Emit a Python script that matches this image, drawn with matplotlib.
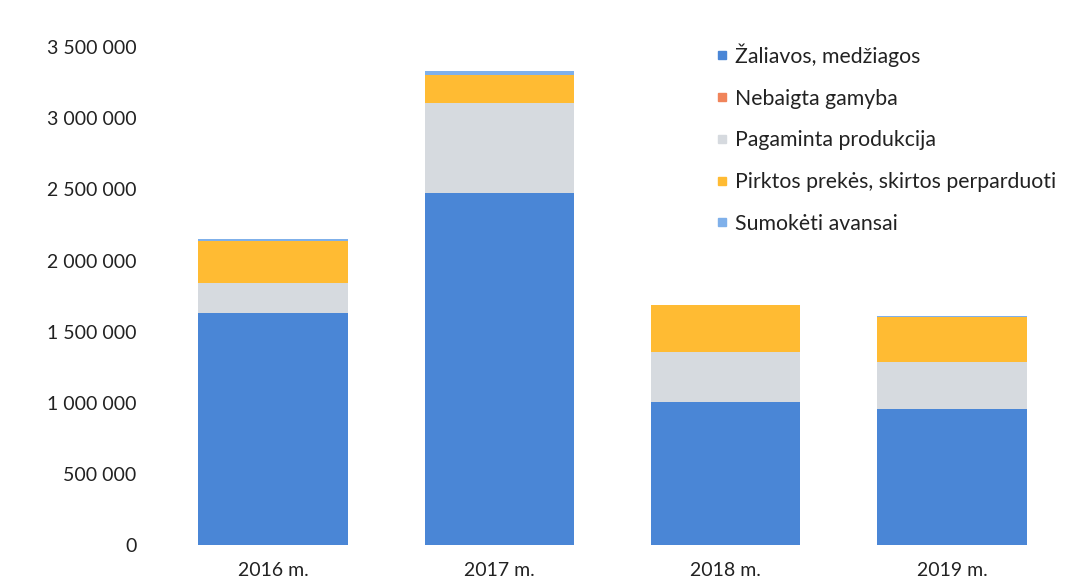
import matplotlib
matplotlib.use("Agg")
import matplotlib.pyplot as plt
from matplotlib.lines import Line2D
from matplotlib.ticker import FuncFormatter
import numpy as np

plt.rcParams['font.family'] = ['Lato', 'DejaVu Sans']

categories = ["2016 m.", "2017 m.", "2018 m.", "2019 m."]
series_names = ["Žaliavos, medžiagos", "Nebaigta gamyba", "Pagaminta produkcija",
                "Pirktos prekės, skirtos perparduoti", "Sumokėti avansai"]
zaliavos = [1630000, 2474000, 1005000, 956000]
nebaigta = [0, 0, 0, 0]
pagaminta = [211000, 632000, 351000, 330000]
pirktos = [295000, 197000, 330000, 316000]
avansai = [14000, 28000, 4000, 5000]
yticks = [0, 500000, 1000000, 1500000, 2000000, 2500000, 3000000, 3500000]

colors = ["#4A86D6", "#F0845A", "#D6DADF", "#FFBB33", "#7FB0EA"]
series = [zaliavos, nebaigta, pagaminta, pirktos, avansai]

fig = plt.figure(figsize=(10.84, 5.82), dpi=100)
ax = fig.add_axes([0.1476, 0.0636, 0.835, 0.8554])
x = np.arange(len(categories))
bottom = np.zeros(len(categories))
for vals, col in zip(series, colors):
    ax.bar(x, vals, bottom=bottom, width=0.66, color=col, linewidth=0)
    bottom += np.array(vals)

ax.set_xlim(-0.5, 3.5)
ax.set_ylim(0, 3500000)
ax.set_yticks(yticks)
ax.yaxis.set_major_formatter(FuncFormatter(lambda v, p: f"{int(v):,}".replace(",", " ")))
ax.set_xticks(x)
ax.set_xticklabels(categories)
for i, lbl in enumerate(ax.get_xticklabels()):
    lbl.set_color("#8a8f96" if i == 1 else "#222222")
ax.tick_params(axis='both', length=0, labelsize=14, colors="#222222")
ax.tick_params(axis='x', pad=12)
ax.tick_params(axis='y', pad=17)
for s in ax.spines.values():
    s.set_visible(False)

handles = [Line2D([0], [0], marker='s', linestyle='none', markersize=6,
                  markerfacecolor=c, markeredgecolor=c) for c in colors]
leg = fig.legend(handles, series_names, loc='upper left', bbox_to_anchor=(0.653, 0.94),
                 frameon=False, fontsize=15.3, handlelength=0.55, handletextpad=0.35,
                 labelspacing=1.02, borderaxespad=0)
for t in leg.get_texts():
    t.set_color("#222222")

fig.savefig("out.png", dpi=100)
